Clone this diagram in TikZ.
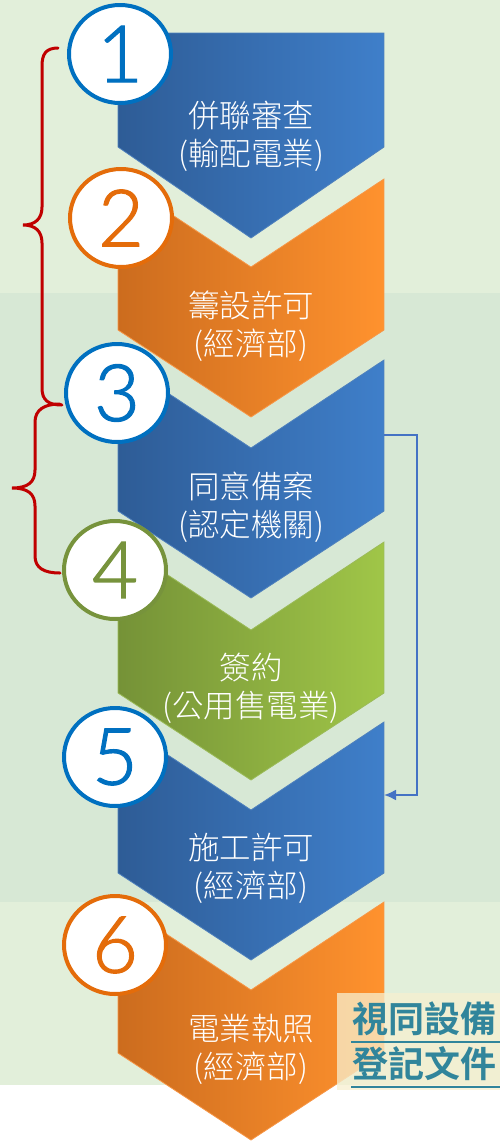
\documentclass[tikz,border=0pt]{standalone}
\usepackage{fontspec}
\IfFontExistsTF{Noto Sans CJK TC Light}
  {\newfontfamily\cjk{Noto Sans CJK TC Light}}
  {\newfontfamily\cjk{Noto Sans CJK TC}}
\newfontfamily\cjkbold{Noto Sans CJK TC Bold}
\IfFontExistsTF{Lato Light}
  {\newfontfamily\digitfont{Lato Light}[FakeBold=1.6]}
  {\newfontfamily\digitfont{Lato}}
\usetikzlibrary{arrows.meta,shapes.geometric}
\definecolor{bandA}{RGB}{226,239,218}
\definecolor{bandB}{RGB}{215,232,213}
\definecolor{blueL}{RGB}{46,92,150}
\definecolor{blueR}{RGB}{63,127,202}
\definecolor{blueE}{RGB}{79,129,189}
\definecolor{oraL}{RGB}{204,108,30}
\definecolor{oraR}{RGB}{255,146,46}
\definecolor{oraE}{RGB}{247,150,70}
\definecolor{grnL}{RGB}{117,146,55}
\definecolor{grnR}{RGB}{160,198,72}
\definecolor{grnE}{RGB}{155,187,89}
\definecolor{cBlue}{RGB}{0,112,192}
\definecolor{cOra}{RGB}{228,108,10}
\definecolor{cGrn}{RGB}{119,147,60}
\definecolor{braceRed}{RGB}{192,0,0}
\definecolor{loopBlue}{RGB}{68,114,196}
\definecolor{teal}{RGB}{49,133,155}
\definecolor{labelbg}{RGB}{247,240,208}
\newcommand\stepchev[4]{%
  \path[draw=#4,line width=0.8pt,left color=#2,right color=#3]
    (118,#1) -- (251,#1+88) -- (384,#1) -- (384,#1+151) -- (251,#1+238) -- (118,#1+151) -- cycle;}
\begin{document}
\begin{tikzpicture}[x=1pt,y=-1pt,
  steptext/.style={text=white,font=\cjk\fontsize{31.5}{38}\selectfont,align=center,inner sep=0pt},
  numcirc/.style={ellipse,draw=#1,line width=4pt,fill=white,minimum width=102pt,minimum height=98pt,
    inner sep=0pt,text=#1,font=\digitfont\fontsize{79}{79}\selectfont},
  bracestyle/.style={draw=braceRed,line width=3pt,line cap=round},
  loopline/.style={draw=loopBlue,line width=2pt,-{Latex[length=12pt,width=11pt]}},
  labeltext/.style={text=teal,font=\cjkbold\fontsize{36}{40}\selectfont,inner sep=0pt,anchor=west},
  underl/.style={draw=teal,line width=2.5pt}]
\useasboundingbox (0,0) rectangle (500,1141);
% background bands
\fill[white] (0,0) rectangle (500,1141);
\fill[bandA] (0,0) rectangle (500,293);
\fill[bandB] (0,293) rectangle (500,902);
\fill[bandA] (0,902) rectangle (500,1085);
% chevrons
\path[draw=blueE,line width=0.8pt,left color=blueL,right color=blueR]
  (118,33) -- (384,33) -- (384,147) -- (251,238) -- (118,147) -- cycle;
\stepchev{179}{oraL}{oraR}{oraE}
\stepchev{360}{blueL}{blueR}{blueE}
\stepchev{542}{grnL}{grnR}{grnE}
\stepchev{722}{blueL}{blueR}{blueE}
\stepchev{902}{oraL}{oraR}{oraE}
% step texts
\node[steptext] (t1) at (251,136) {併聯審查\\(輸配電業)};
\node[steptext] (t2) at (251,326) {籌設許可\\(經濟部)};
\node[steptext] (t3) at (251,507) {同意備案\\(認定機關)};
\node[steptext] (t4) at (251,688) {簽約\\(公用售電業)};
\node[steptext] (t5) at (251,868) {施工許可\\(經濟部)};
\node[steptext] (t6) at (251,1049) {電業執照\\(經濟部)};
% braces
\draw[bracestyle] (58,48) .. controls (46,48) and (42,54) .. (42,66) -- (42,207)
  .. controls (42,219) and (35,225) .. (23,225) .. controls (35,225) and (42,231) .. (42,243)
  -- (42,388) .. controls (42,400) and (48,405) .. (62,405);
\draw[bracestyle] (60,404) .. controls (44,404) and (35,410) .. (35,422) -- (35,470)
  .. controls (35,482) and (28,488) .. (12,488) .. controls (28,488) and (35,494) .. (35,506)
  -- (35,556) .. controls (35,568) and (44,573) .. (60,573);
% loop connector
\coordinate (c3r) at (384,435);
\coordinate (c5r) at (384,795);
\draw[loopline] (c3r) -- ++(33,0) |- (c5r);
% number circles
\node[numcirc=cBlue] (n1) at (120,54) {1};
\node[numcirc=cOra] (n2) at (121,218) {2};
\node[numcirc=cBlue] (n3) at (117,393) {3};
\node[numcirc=cGrn] (n4) at (115,570) {4};
\node[numcirc=cBlue] (n5) at (115,757) {5};
\node[numcirc=cOra] (n6) at (115,945) {6};
% label
\fill[labelbg,opacity=0.75] (337,993) rectangle (500,1090);
\node[labeltext] (l1) at (352,1019) {視同設備};
\node[labeltext] (l2) at (352,1064) {登記文件};
\draw[underl] (351,1042) -- (500,1042);
\draw[underl] (351,1087) -- (500,1087);
\end{tikzpicture}
\end{document}
